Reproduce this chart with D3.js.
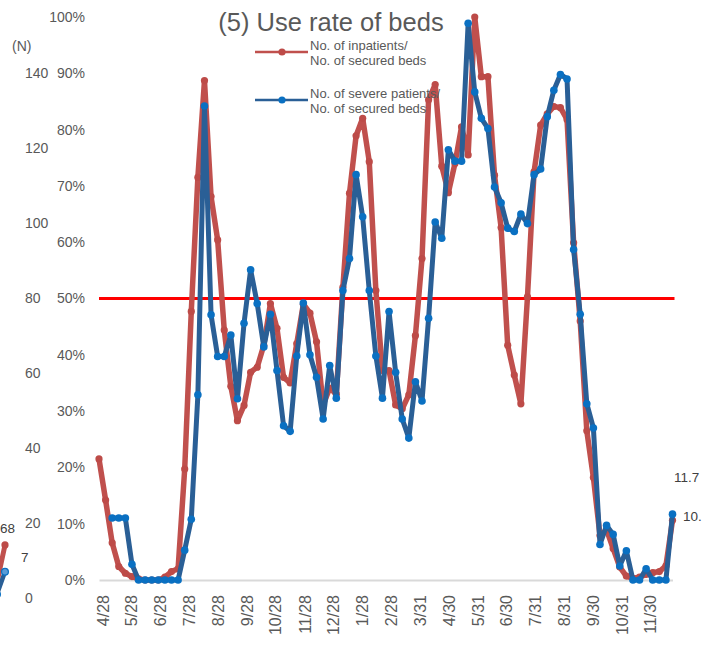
<!DOCTYPE html>
<html>
<head>
<meta charset="utf-8">
<script src="https://cdn.jsdelivr.net/npm/d3@7"></script>
<style>
  body { margin: 0; background: #fff; }
  svg { display: block; font-family: "Liberation Sans", Arial, sans-serif; }
</style>
</head>
<body>
<svg id="chart" width="702" height="654"></svg>
<script>
// Weekly series, first week ending 2020-04-24
const firstWeek = new Date(2020, 3, 24);

// No. of inpatients / No. of secured beds (%)
const inpatientRate = [
  21.5, 14.2, 6.6, 2.4, 1.2, 0.6, 0.2, 0, 0, 0,
  0.5, 1.5, 2.0, 19.7, 47.7, 71.5, 88.7, 68.1, 60.4, 44.4,
  34.4, 28.3, 31.0, 36.9, 37.8, 41.7, 49.1, 44.7, 36.0, 35.0,
  42.0, 49.0, 47.4, 42.3, 31.1, 34.1, 33.0, 52.0, 68.7, 78.9,
  82.0, 74.3, 51.4, 37.2, 37.2, 31.1, 30.4, 32.9, 43.4, 57.1,
  85.3, 88.0, 73.5, 68.8, 74.0, 80.5, 75.5, 100, 89.4, 89.4,
  71.9, 62.6, 41.7, 36.4, 31.3, 50.3, 72.5, 80.8, 82.8, 84.1,
  83.9, 81.8, 59.9, 46.0, 26.5, 18.2, 7.9, 8.9, 5.6, 2.3,
  0.7, 0.3, 0.5, 1.0, 1.3, 1.5, 2.5, 10.6
];

// No. of severe patients / No. of secured beds (%)
const severeRate = [
  null, null, 11.0, 11.0, 11.0, 2.8, 0, 0, 0, 0,
  0, 0, 0, 5.3, 10.8, 32.9, 84.2, 47.1, 39.7, 39.7,
  43.5, 32.2, 45.6, 55.1, 49.1, 41.4, 47.2, 37.2, 27.4, 26.4,
  39.8, 49.2, 40.0, 36.0, 28.6, 38.1, 32.3, 51.4, 57.1, 72.0,
  64.5, 51.4, 39.8, 32.3, 47.7, 36.9, 28.6, 25.2, 35.2, 31.8,
  46.5, 63.6, 60.7, 76.4, 74.4, 74.4, 98.9, 86.7, 82.0, 80.2,
  69.8, 67.0, 62.5, 61.9, 65.0, 63.3, 72.0, 73.0, 82.3, 87.0,
  89.8, 89.0, 58.7, 47.2, 31.3, 27.0, 6.3, 9.7, 8.1, 2.5,
  5.2, 0, 0, 2.0, 0, 0, 0, 11.7
];

const thresholdRate = 50;

const tickDates = [
  "2020-04-28", "2020-05-28", "2020-06-28", "2020-07-28", "2020-08-28",
  "2020-09-28", "2020-10-28", "2020-11-28", "2020-12-28", "2021-01-28",
  "2021-02-28", "2021-03-31", "2021-04-30", "2021-05-31", "2021-06-30",
  "2021-07-31", "2021-08-31", "2021-09-30", "2021-10-31", "2021-11-30"
];
const percentTicks = [0, 10, 20, 30, 40, 50, 60, 70, 80, 90, 100];
const countTicks = [0, 20, 40, 60, 80, 100, 120, 140];

// Tail of the neighbouring panel that shows at the left edge
const edgeInpatients = [20, 68];
const edgeSevere = [1, 7];
// Labels of the neighbouring panel at the right edge
const rightEdgeLabels = ["11.7", "10."];

const title = "(5) Use rate of beds";
const legendItems = [
  { lines: ["No. of inpatients/", "No. of secured beds"], key: "inp" },
  { lines: ["No. of severe patients/", "No. of secured beds"], key: "sev" }
];

const colors = {
  inpLine: "#c0504d",
  inpMarker: "#bd4b48",
  sevLine: "#2a5f96",
  sevMarker: "#0a70c2",
  threshold: "#ff0000",
  axis: "#d9d9d9",
  text: "#595959",
  dark: "#404040"
};

const parse = d3.timeParse("%Y-%m-%d");
const fmt = d3.timeFormat("%-m/%-d");
const weekDate = i => d3.timeDay.offset(firstWeek, 7 * i);
const lastWeek = weekDate(inpatientRate.length - 1);

const svg = d3.select("#chart");

const x = d3.scaleTime().domain([firstWeek, lastWeek]).range([99, 672.5]);
const y = d3.scaleLinear().domain([0, 100]).range([580, 17]);
const yCount = d3.scaleLinear().domain([0, 140]).range([598, 73]);

// Title
svg.append("text")
  .attr("x", 331).attr("y", 31)
  .attr("text-anchor", "middle")
  .attr("fill", colors.text)
  .style("font-size", "25.5px")
  .text(title);

// Count axis (N) of the neighbouring panel
svg.append("text")
  .attr("x", 12).attr("y", yCount(140) - 27)
  .attr("dy", "0.35em")
  .attr("fill", colors.text)
  .style("font-size", "14px")
  .text("(N)");
svg.append("g").selectAll("text")
  .data(countTicks)
  .join("text")
  .attr("x", 25)
  .attr("y", d => yCount(d))
  .attr("dy", "0.35em")
  .attr("fill", colors.text)
  .style("font-size", "14px")
  .text(d => d);

// Percent axis
const yAxis = d3.axisLeft(y)
  .tickValues(percentTicks)
  .tickSize(0)
  .tickPadding(0)
  .tickFormat(d => d + "%");
const gy = svg.append("g").attr("transform", "translate(85,0)").call(yAxis);
gy.select(".domain").remove();
gy.selectAll("text")
  .attr("fill", colors.text)
  .style("font-size", "14px")
  .style("font-family", "'Liberation Sans', Arial, sans-serif");

// Date axis
const xAxis = d3.axisBottom(x)
  .tickValues(tickDates.map(parse))
  .tickSize(0)
  .tickFormat(fmt);
const gx = svg.append("g").attr("transform", `translate(0,${y(0)})`).call(xAxis);
gx.select(".domain")
  .attr("stroke", colors.axis)
  .attr("stroke-width", 2);
gx.selectAll("text")
  .attr("fill", colors.text)
  .style("font-size", "16px")
  .style("font-family", "'Liberation Sans', Arial, sans-serif")
  .attr("text-anchor", "end")
  .attr("transform", "translate(0,15) rotate(-90)")
  .attr("x", 0)
  .attr("y", 0)
  .attr("dy", "0.36em");

// 50% reference line
svg.append("line")
  .attr("x1", x(firstWeek)).attr("x2", x(lastWeek) + 2)
  .attr("y1", y(thresholdRate)).attr("y2", y(thresholdRate))
  .attr("stroke", colors.threshold)
  .attr("stroke-width", 3);

// Series
function drawSeries(values, lineColor, markerColor, width, r) {
  const pts = values.map((v, i) => ({ date: weekDate(i), v })).filter(d => d.v != null);
  const line = d3.line().x(d => x(d.date)).y(d => y(d.v)).curve(d3.curveLinear);
  svg.append("path")
    .datum(pts)
    .attr("d", line)
    .attr("fill", "none")
    .attr("stroke", lineColor)
    .attr("stroke-width", width)
    .attr("stroke-linejoin", "round")
    .attr("stroke-linecap", "round");
  svg.append("g").selectAll("circle")
    .data(pts)
    .join("circle")
    .attr("cx", d => x(d.date))
    .attr("cy", d => y(d.v))
    .attr("r", r)
    .attr("fill", markerColor);
}
drawSeries(inpatientRate, colors.inpLine, colors.inpMarker, 5.5, 3.6);
drawSeries(severeRate, colors.sevLine, colors.sevMarker, 5, 3.8);

// Legend
const legend = svg.append("g");
const legendRows = [52, 100];
legendItems.forEach((item, i) => {
  const ly = legendRows[i];
  const lc = item.key === "inp" ? colors.inpLine : colors.sevLine;
  const mc = item.key === "inp" ? colors.inpMarker : colors.sevMarker;
  legend.append("line")
    .attr("x1", 255).attr("x2", 308)
    .attr("y1", ly).attr("y2", ly)
    .attr("stroke", lc).attr("stroke-width", 2.5);
  legend.append("circle")
    .attr("cx", 282).attr("cy", ly).attr("r", 3.6).attr("fill", mc);
  item.lines.forEach((t, j) => {
    legend.append("text")
      .attr("x", 310)
      .attr("y", ly - 7 + j * 15)
      .attr("dy", "0.35em")
      .attr("fill", colors.text)
      .style("font-size", "13px")
      .text(t);
  });
});

// Neighbouring panel tail at the left edge
const edgeX = d3.scaleLinear().domain([0, 1]).range([-3, 5]);
const yEdge = d3.scaleLinear().domain([0, 700]).range([598, 52]);
const edgeInpPts = edgeInpatients.map((v, i) => [edgeX(i), yEdge(v)]);
const edgeSevPts = edgeSevere.map((v, i) => [edgeX(i), yCount(v)]);
svg.append("path").attr("d", d3.line()(edgeInpPts))
  .attr("fill", "none").attr("stroke", colors.inpLine).attr("stroke-width", 5)
  .attr("stroke-linecap", "round");
svg.append("circle").attr("cx", edgeInpPts[1][0]).attr("cy", edgeInpPts[1][1])
  .attr("r", 3.6).attr("fill", colors.inpMarker);
svg.append("path").attr("d", d3.line()(edgeSevPts))
  .attr("fill", "none").attr("stroke", colors.sevLine).attr("stroke-width", 4.5)
  .attr("stroke-linecap", "round");
svg.selectAll(".edgeSev").data(edgeSevPts).join("circle")
  .attr("cx", d => d[0]).attr("cy", d => d[1])
  .attr("r", 3.4).attr("fill", "#5b9bd5")
  .attr("stroke", colors.sevMarker).attr("stroke-width", 1.2);
svg.append("text")
  .attr("x", 0).attr("y", edgeInpPts[1][1] - 17)
  .attr("dy", "0.35em")
  .attr("fill", colors.dark).style("font-size", "13.5px")
  .text(edgeInpatients[1]);
svg.append("text")
  .attr("x", 21).attr("y", yCount(edgeSevere[1]) - 14)
  .attr("dy", "0.35em")
  .attr("fill", colors.dark).style("font-size", "13.5px")
  .text(edgeSevere[1]);

// Labels of the neighbouring panel at the right edge
svg.append("text")
  .attr("x", 674).attr("y", 477).attr("dy", "0.35em")
  .attr("fill", colors.dark).style("font-size", "13.5px")
  .text(rightEdgeLabels[0]);
svg.append("text")
  .attr("x", 683).attr("y", 516).attr("dy", "0.35em")
  .attr("fill", colors.dark).style("font-size", "13.5px")
  .text(rightEdgeLabels[1]);
</script>
</body>
</html>
